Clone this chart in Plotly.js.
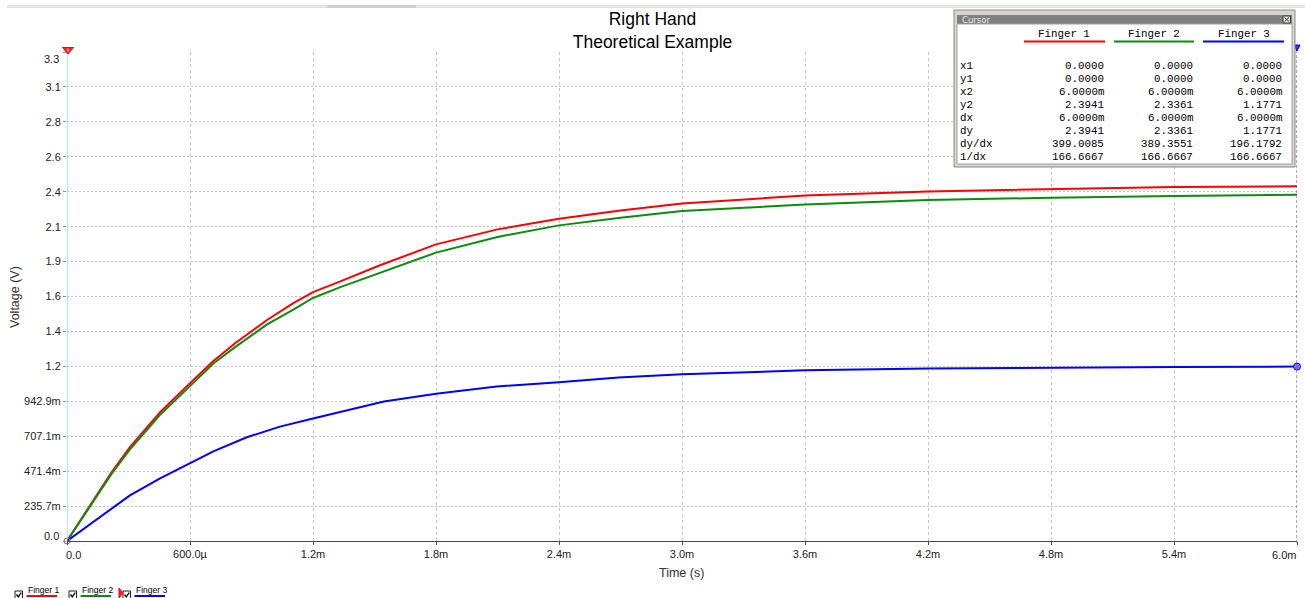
<!DOCTYPE html>
<html><head><meta charset="utf-8">
<script src="https://cdn.plot.ly/plotly-3.0.1.min.js"></script>
<style>html,body{margin:0;padding:0;background:#fff}#chart{width:1305px;height:598px}</style>
</head><body><div id="chart"></div>
<script>
// ---------------- data ----------------
const seriesNames = ['Finger 1', 'Finger 2', 'Finger 3'];
const seriesColors = ['#ff0000', '#0c8c0c', '#0000ff'];

// time in ms
const timeF12 = [0, 0.218, 0.307, 0.454, 0.6, 0.714, 0.82, 0.974, 1.104, 1.2, 1.33, 1.527, 1.8, 2.1, 2.4, 2.7, 3.0, 3.6, 4.2, 4.8, 5.4, 6.0];
const finger1 = [0, 0.465, 0.634, 0.870, 1.065, 1.215, 1.335, 1.490, 1.605, 1.680, 1.750, 1.861, 2.002, 2.103, 2.175, 2.231, 2.278, 2.331, 2.359, 2.376, 2.389, 2.3941];
const finger2 = [0, 0.454, 0.618, 0.852, 1.045, 1.198, 1.308, 1.460, 1.562, 1.640, 1.712, 1.812, 1.946, 2.052, 2.130, 2.182, 2.227, 2.271, 2.302, 2.316, 2.329, 2.3361];
const timeF3 = [0, 0.128, 0.218, 0.307, 0.454, 0.6, 0.714, 0.877, 1.039, 1.2, 1.33, 1.546, 1.8, 2.096, 2.4, 2.69, 3.0, 3.6, 4.2, 4.8, 5.4, 6.0];
const finger3 = [0, 0.128, 0.218, 0.308, 0.422, 0.524, 0.605, 0.700, 0.772, 0.827, 0.870, 0.941, 0.993, 1.043, 1.072, 1.104, 1.125, 1.152, 1.164, 1.172, 1.175, 1.1771];

const xTickVals = [0, 0.0006, 0.0012, 0.0018, 0.0024, 0.003, 0.0036, 0.0042, 0.0048, 0.0054, 0.006];
const xTickText = ['0.0', '600.0µ', '1.2m', '1.8m', '2.4m', '3.0m', '3.6m', '4.2m', '4.8m', '5.4m', '6.0m'];
const yTickVals = [0, 0.2357, 0.4714, 0.7071, 0.9429, 1.1786, 1.4143, 1.65, 1.8857, 2.1214, 2.3571, 2.5929, 2.8286, 3.0643, 3.3];
const yTickText = ['0.0', '235.7m', '471.4m', '707.1m', '942.9m', '1.2', '1.4', '1.6', '1.9', '2.1', '2.4', '2.6', '2.8', '3.1', '3.3'];

const cursorRows = ['x1', 'y1', 'x2', 'y2', 'dx', 'dy', 'dy/dx', '1/dx'];
const cursorF1 = ['0.0000', '0.0000', '6.0000m', '2.3941', '6.0000m', '2.3941', '399.0085', '166.6667'];
const cursorF2 = ['0.0000', '0.0000', '6.0000m', '2.3361', '6.0000m', '2.3361', '389.3551', '166.6667'];
const cursorF3 = ['0.0000', '0.0000', '6.0000m', '1.1771', '6.0000m', '1.1771', '196.1792', '166.6667'];

// ---------------- geometry helpers ----------------
const L = 67, R = 1297, T = 52, B = 541;
const px = x => (x - L) / (R - L);
const py = y => (B - y) / (B - T);
const ms = a => a.map(t => t / 1000);

const traces = [
  {x: ms(timeF12), y: finger1, name: seriesNames[0], mode: 'lines', line: {color: seriesColors[0], width: 2}},
  {x: ms(timeF12), y: finger2, name: seriesNames[1], mode: 'lines', line: {color: seriesColors[1], width: 2}},
  {x: ms(timeF3), y: finger3, name: seriesNames[2], mode: 'lines', line: {color: seriesColors[2], width: 2}},
  {x: [ms(timeF3)[timeF3.length - 1]], y: [finger3[finger3.length - 1]], mode: 'markers', cliponaxis: false,
   marker: {symbol: 'circle', size: 7, color: '#7a7aff', line: {color: '#0000ff', width: 1}}},
  {x: [0], y: [finger1[0]], mode: 'markers', cliponaxis: false,
   marker: {symbol: 'circle-open', size: 6, color: '#d05050', line: {width: 1}}}
];

const shapes = [];
const annotations = [];
const mono = {family: 'Liberation Mono, Courier New, monospace', size: 10.8, color: '#000'};
const sans = 'Liberation Sans, Arial, sans-serif';

// top strip
shapes.push({type: 'rect', xref: 'paper', yref: 'paper', x0: px(7), x1: px(1305), y0: py(8), y1: py(5), fillcolor: '#e6e6e6', line: {width: 0}});
shapes.push({type: 'rect', xref: 'paper', yref: 'paper', x0: px(327), x1: px(416), y0: py(8), y1: py(5), fillcolor: '#cfcfcf', line: {width: 0}});

// cursor 1 (cyan) and cursor 2 (blue dashed)
shapes.push({type: 'line', xref: 'x', yref: 'paper', x0: 0, x1: 0, y0: py(541), y1: py(52), line: {color: '#3ee6f2', width: 1}});
shapes.push({type: 'line', xref: 'x', yref: 'paper', x0: 0.006, x1: 0.006, y0: py(543), y1: py(45), line: {color: '#4a4aff', width: 1, dash: '3px,2px'}});
// cursor markers
shapes.push({type: 'path', xref: 'paper', yref: 'paper', path: `M${px(62.5)},${py(47.5)} L${px(73.5)},${py(47.5)} L${px(68)},${py(54)} Z`, fillcolor: '#ff2020', line: {color: '#ff0000', width: 1}});
shapes.push({type: 'line', xref: 'paper', yref: 'paper', x0: px(68), x1: px(68), y0: py(48.5), y1: py(51.5), line: {color: '#ffffff', width: 1}});
shapes.push({type: 'path', xref: 'paper', yref: 'paper', path: `M${px(1294)},${py(45)} L${px(1300)},${py(45)} L${px(1297)},${py(51)} Z`, fillcolor: '#3030ff', line: {color: '#0000ff', width: 1}});

// ---------------- cursor box ----------------
shapes.push({type: 'rect', xref: 'paper', yref: 'paper', x0: px(954), x1: px(1295), y0: py(167), y1: py(10), fillcolor: '#d8d5cf', line: {color: '#8a8a8a', width: 1}});
shapes.push({type: 'rect', xref: 'paper', yref: 'paper', x0: px(957), x1: px(1292), y0: py(24), y1: py(15), fillcolor: '#808080', line: {width: 0}});
shapes.push({type: 'rect', xref: 'paper', yref: 'paper', x0: px(957), x1: px(1292), y0: py(164), y1: py(24), fillcolor: '#ffffff', line: {color: '#a0a0a0', width: 1}});
// close button
shapes.push({type: 'rect', xref: 'paper', yref: 'paper', x0: px(1283), x1: px(1290.5), y0: py(23), y1: py(16), fillcolor: '#e4e2dc', line: {color: '#404040', width: 1}});
shapes.push({type: 'line', xref: 'paper', yref: 'paper', x0: px(1284.5), x1: px(1289), y0: py(17.5), y1: py(21.5), line: {color: '#404040', width: 1}});
shapes.push({type: 'line', xref: 'paper', yref: 'paper', x0: px(1284.5), x1: px(1289), y0: py(21.5), y1: py(17.5), line: {color: '#404040', width: 1}});
annotations.push({xref: 'paper', yref: 'paper', x: px(960), y: py(20), xanchor: 'left', yanchor: 'middle', showarrow: false,
  text: 'Cursor', font: {family: 'DejaVu Sans, sans-serif', size: 8.5, color: '#e8e8e8'}});

const colCenters = [1064, 1154, 1243.5];
const colRights = [1106, 1195, 1284];
const colUnder = [[1024, 1105], [1114, 1194], [1203, 1284]];
const colVals = [cursorF1, cursorF2, cursorF3];
seriesNames.forEach((n, i) => {
  annotations.push({xref: 'paper', yref: 'paper', x: px(colCenters[i]), y: py(33.5), xanchor: 'center', yanchor: 'middle', showarrow: false, text: n, font: mono});
  shapes.push({type: 'line', xref: 'paper', yref: 'paper', x0: px(colUnder[i][0]), x1: px(colUnder[i][1]), y0: py(41.5), y1: py(41.5), line: {color: seriesColors[i], width: 2}});
});
cursorRows.forEach((r, k) => {
  const yy = py(65.8 + k * 13.0);
  annotations.push({xref: 'paper', yref: 'paper', x: px(958), y: yy, xanchor: 'left', yanchor: 'middle', showarrow: false, text: r, font: mono});
  colVals.forEach((vals, i) => {
    annotations.push({xref: 'paper', yref: 'paper', x: px(colRights[i]), y: yy, xanchor: 'right', yanchor: 'middle', showarrow: false, text: vals[k], font: mono});
  });
});

// ---------------- axis titles and edge tick labels ----------------
const tickFont = {family: sans, size: 11, color: '#222'};
annotations.push({xref: 'paper', yref: 'paper', x: px(15), y: py(297), xanchor: 'center', yanchor: 'middle', textangle: -90, showarrow: false,
  text: 'Voltage (V)', font: {family: sans, size: 12.5, color: '#333'}});
annotations.push({xref: 'paper', yref: 'paper', x: px(681), y: py(573), xanchor: 'center', yanchor: 'middle', showarrow: false,
  text: 'Time (s)', font: {family: sans, size: 12.5, color: '#333'}});
annotations.push({xref: 'paper', yref: 'paper', x: px(61), y: py(536), xanchor: 'right', yanchor: 'middle', showarrow: false, text: yTickText[0], font: tickFont});
annotations.push({xref: 'paper', yref: 'paper', x: px(61), y: py(59), xanchor: 'right', yanchor: 'middle', showarrow: false, text: yTickText[yTickText.length - 1], font: tickFont});
annotations.push({xref: 'paper', yref: 'paper', x: px(73.5), y: py(555), xanchor: 'center', yanchor: 'middle', showarrow: false, text: xTickText[0], font: tickFont});
annotations.push({xref: 'paper', yref: 'paper', x: px(1298), y: py(555), xanchor: 'right', yanchor: 'middle', showarrow: false, text: xTickText[xTickText.length - 1], font: tickFont});

// ---------------- bottom legend ----------------
const legX = [15, 69, 123];
seriesNames.forEach((n, i) => {
  const x0 = legX[i];
  shapes.push({type: 'rect', xref: 'paper', yref: 'paper', x0: px(x0), x1: px(x0 + 7.5), y0: py(599), y1: py(591), fillcolor: '#ffffff', line: {color: '#202020', width: 1}});
  shapes.push({type: 'path', xref: 'paper', yref: 'paper', path: `M${px(x0 + 1.5)},${py(594.5)} L${px(x0 + 3.3)},${py(596.8)} L${px(x0 + 6.3)},${py(592.5)}`, line: {color: '#000', width: 1.3}});
  annotations.push({xref: 'paper', yref: 'paper', x: px(x0 + 10.5), y: py(589.5), xanchor: 'left', yanchor: 'middle', showarrow: false, text: n,
    font: {family: sans, size: 8.5, color: '#000'}});
  shapes.push({type: 'line', xref: 'paper', yref: 'paper', x0: px(x0 + 11.5), x1: px(x0 + 42), y0: py(596), y1: py(596), line: {color: seriesColors[i], width: 2}});
});
shapes.push({type: 'path', xref: 'paper', yref: 'paper', path: `M${px(119)},${py(588)} L${px(123)},${py(593)} L${px(119)},${py(598)} Z`, fillcolor: '#ff2020', line: {color: '#ff0000', width: 1}});

const layout = {
  width: 1305, height: 598,
  margin: {l: L, r: 1305 - R, t: T, b: 598 - B, pad: 0},
  paper_bgcolor: '#ffffff', plot_bgcolor: '#ffffff',
  showlegend: false, hovermode: false,
  title: {text: 'Right Hand<br>Theoretical Example', x: 0.5, xref: 'container', xanchor: 'center',
          y: 1 - 25 / 598, yref: 'container', yanchor: 'middle',
          font: {family: sans, size: 17.5, color: '#000'}},
  xaxis: {
    range: [0, 0.006], tickmode: 'array', tickvals: xTickVals,
    ticktext: xTickText.map((t, i) => (i === 0 || i === xTickText.length - 1) ? '' : t),
    showgrid: true, gridcolor: '#c4c4c4', gridwidth: 1, griddash: '3px,3px',
    zeroline: false, showline: true, linecolor: '#4a4a4a', linewidth: 1,
    ticks: 'outside', ticklen: 3, tickcolor: '#4a4a4a', tickfont: tickFont, fixedrange: true
  },
  yaxis: {
    range: [0, 3.3], tickmode: 'array', tickvals: yTickVals,
    ticktext: yTickText.map((t, i) => (i === 0 || i === yTickText.length - 1) ? '' : t),
    showgrid: true, gridcolor: '#c4c4c4', gridwidth: 1, griddash: '2px,2px',
    zeroline: false, showline: false,
    ticks: 'outside', ticklen: 3, tickcolor: '#8a8a8a', tickfont: tickFont, fixedrange: true
  },
  shapes: shapes,
  annotations: annotations
};

Plotly.newPlot('chart', traces, layout, {staticPlot: true, displayModeBar: false});
</script>
</body></html>
